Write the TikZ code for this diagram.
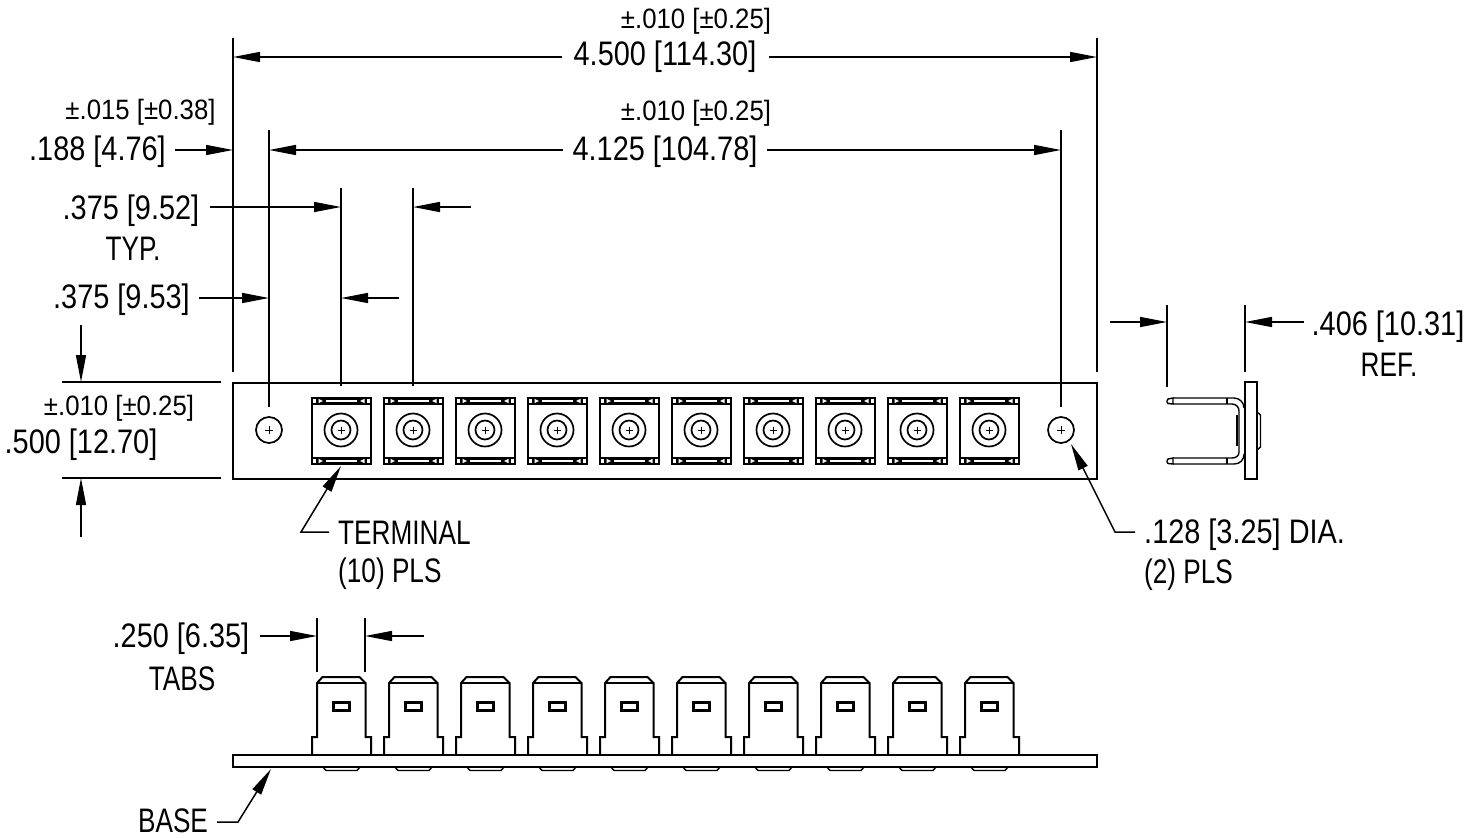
\documentclass[tikz,border=0pt]{standalone}
\usepackage{fontspec}
\setmainfont[FakeStretch=0.77]{Liberation Sans}
\newfontfamily\numfont[FakeStretch=0.85]{Liberation Sans}
\newfontfamily\tolfont[FakeStretch=0.92]{Liberation Sans}
\usetikzlibrary{arrows.meta}
\tikzset{
  big/.style={font=\numfont\fontsize{34}{36}\selectfont,inner sep=0pt,anchor=center},
  word/.style={font=\fontsize{34}{36}\selectfont,inner sep=0pt,anchor=center},
  small/.style={font=\tolfont\fontsize{28}{30}\selectfont,inner sep=0pt,anchor=center},
  dimline/.style={line width=1.5pt,black},
  tip/.style={dimline,-{Stealth[inset=0pt,length=27pt,width=10pt]}},
  part/.style={line width=2pt,black},
  thin part/.style={line width=1.4pt,black}
}
\begin{document}
\begin{tikzpicture}[x=1pt,y=-1pt]
\useasboundingbox (0,0) rectangle (1482,838);
\fill[white] (0,0) rectangle (1482,838);

% front plate
\draw[part] (233,382.5) rectangle (1097,478.5);
% holes
\foreach \n/\x in {a/269,b/1061}{
  \node[draw,circle,line width=1.7pt,minimum size=26pt,inner sep=0pt] (hole\n) at (\x,430) {};
  \draw[line width=1pt] (\x-4,430) -- (\x+4,430) (\x,426) -- (\x,434);
}
% terminals, top view and front view
\foreach \i in {0,...,9}{
  \pgfmathsetmacro{\c}{341+72*\i}
  \begin{scope}[shift={(\c,0)}]
    \draw[part] (-29.5,397.5) rectangle (30,464);
    \foreach \ya/\yb/\ys in {397/405/1,457/465/-1}{
      \fill (-30,\ya) rectangle (30.5,\yb);
      \pgfmathsetmacro{\ym}{(\ya+\yb)/2}
      \fill[white] (-28,\ym-2.2) rectangle (-25,\ym+2.2);
      \fill[white] (26,\ym-2.2) rectangle (29,\ym+2.2);
      \fill[white] (-22.5,\ym-2.2) -- (-18,\ym) -- (-22.5,\ym+2.2) -- cycle;
      \fill[white] (23.5,\ym-2.2) -- (19,\ym) -- (23.5,\ym+2.2) -- cycle;
      \fill[white] (-15,\ym-0.8) rectangle (16,\ym+0.8);
    }
    \draw[line width=1.7pt] (0,430) circle[radius=16.5] circle[radius=9.5];
    \draw[line width=1pt] (-3.5,430) -- (3.5,430) (0,426.5) -- (0,433.5);
    % tab
    \draw[part,fill=white] (-29,755) -- (-29,737) -- (-24,737) -- (-24,683) -- (-18.5,677) -- (18.5,677) -- (24.5,683) -- (24.5,737) -- (30,737) -- (30,755);
    \draw[thin part] (-24,683) -- (24.5,683);
    \draw[line width=3pt] (-8,702.3) rectangle (8.5,710.3);
    \draw[thin part] (-18,767) -- (-15,770.5) -- (16,770.5) -- (19,767);
  \end{scope}
}
% base
\draw[part] (233,755) rectangle (1097,767);

% side view
\draw[part] (1245,382) rectangle (1257,479);
\draw[thin part] (1257,412) -- (1260.5,415) -- (1260.5,447) -- (1257,450);
\draw[thin part] (1173,398) -- (1234,398) .. controls (1240,398) and (1244,403) .. (1244,408);
\draw[thin part] (1173,404) -- (1232,404) .. controls (1236,404) and (1239,407) .. (1239,411) -- (1239,452) .. controls (1239,456) and (1236,458) .. (1232,458) -- (1173,458);
\draw[thin part] (1173,464) -- (1234,464) .. controls (1240,464) and (1244,460) .. (1244,454);
\draw[thin part] (1173,398) -- (1168,399) -- (1167,401) -- (1167,402) -- (1168,403.5) -- (1173,404) -- cycle;
\draw[thin part] (1173,458) -- (1168,459) -- (1167,461) -- (1167,462) -- (1168,463.5) -- (1173,464) -- cycle;
\draw[line width=1.2pt] (1227,398) -- (1227,404) (1227,458) -- (1227,464);
\draw[line width=2.6pt] (1237,415) -- (1237,446);

% texts
\node[small] (t1) at (696,21) {±.010 [±0.25]};
\node[big]   (t2) at (665,56.5) {4.500 [114.30]};
\node[small] (t3) at (696,113) {±.010 [±0.25]};
\node[big]   (t4) at (665,151.5) {4.125 [104.78]};
\node[small] (t5) at (140.5,112) {±.015 [±0.38]};
\node[big]   (t6) at (97.5,152) {.188 [4.76]};
\node[big]   (t7) at (131,211) {.375 [9.52]};
\node[word]  (t8) at (133,249) {TYP.};
\node[big]   (t9) at (121.5,300) {.375 [9.53]};
\node[small] (t10) at (119,408) {±.010 [±0.25]};
\node[big]   (t11) at (81,445) {.500 [12.70]};
\node[word,anchor=west] (t12) at (338,532.5) {TERMINAL};
\node[word,anchor=west] (t13) at (338,574) {(10) PLS};
\node[big,anchor=west] (t14) at (1144,535) {.128 [3.25] DIA.};
\node[word,anchor=west] (t15) at (1144,575) {(2) PLS};
\node[big]   (t16) at (1388,327) {.406 [10.31]};
\node[word]  (t17) at (1389,364.5) {REF.};
\node[big]   (t18) at (181,639) {.250 [6.35]};
\node[word]  (t19) at (182,678.5) {TABS};
\node[word]  (t20) at (173,821) {BASE};

% extension lines
\foreach \n/\x/\ya/\yb in {A/233/38/372,B/1097/38/372,C/269/130/407,D/1061/130/407,E/341/188/386,F/413/188/386,G/1167/305/387,H/1245/305/372,I/317/618/672,J/365/618/672}{
  \coordinate (\n top) at (\x,\ya);
  \coordinate (\n bot) at (\x,\yb);
  \draw[dimline] (\n top) -- (\n bot);
}
\draw[dimline] (62,382) -- (221,382);
\draw[dimline] (62,478) -- (221,478);

% dimension arrows
\foreach \xa/\ya/\xb/\yb in {
  562/57/233/57, 769/57/1097/57,
  563/150/269/150, 767/150/1061/150,
  175/150/233/150,
  210/207/341/207, 471/207/413/207,
  199/298/269/298, 399/298/341/298,
  1110/322/1167/322, 1304/322/1245/322,
  81/325/81/382, 81/537/81/478,
  260/636/317/636, 424/636/365/636}{
  \draw[tip] (\xa,\ya) -- (\xb,\yb);
}
% leaders
\draw[tip] (329,532) -- (301,532) -- (341,466);
\draw[tip] (1135,532) -- (1115,532) -- (1071,444);
\draw[tip] (217,822) -- (238,822) -- (271,769);
\end{tikzpicture}
\end{document}
